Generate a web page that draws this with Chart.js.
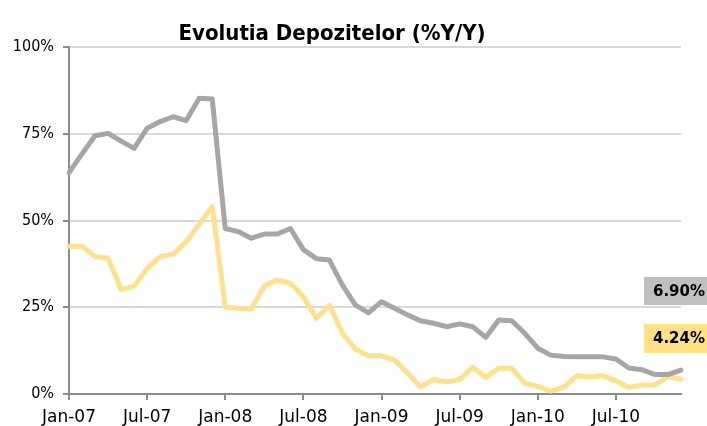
<!DOCTYPE html>
<html>
<head>
<meta charset="utf-8">
<script src="https://cdn.jsdelivr.net/npm/chart.js@4.4.1/dist/chart.umd.min.js"></script>
<style>
  html, body { margin: 0; padding: 0; background: #ffffff; }
  #wrap { width: 707px; height: 426px; }
</style>
</head>
<body>
<div id="wrap"><canvas id="c" width="707" height="426"></canvas></div>
<script>
// ---- data ----
const chartTitle = "Evolutia Depozitelor (%Y/Y)";
const months = [
  "Jan-07","Feb-07","Mar-07","Apr-07","May-07","Jun-07","Jul-07","Aug-07","Sep-07","Oct-07","Nov-07","Dec-07",
  "Jan-08","Feb-08","Mar-08","Apr-08","May-08","Jun-08","Jul-08","Aug-08","Sep-08","Oct-08","Nov-08","Dec-08",
  "Jan-09","Feb-09","Mar-09","Apr-09","May-09","Jun-09","Jul-09","Aug-09","Sep-09","Oct-09","Nov-09","Dec-09",
  "Jan-10","Feb-10","Mar-10","Apr-10","May-10","Jun-10","Jul-10","Aug-10","Sep-10","Oct-10","Nov-10","Dec-10"
];
const graySeries = [
  63.8, 69.2, 74.4, 75.1, 72.9, 70.8, 76.6, 78.5, 79.9, 78.8, 85.2, 85.0,
  47.7, 46.8, 44.9, 46.1, 46.1, 47.7, 41.6, 39.0, 38.6, 31.4, 25.6, 23.4,
  26.6, 24.7, 22.8, 21.1, 20.4, 19.4, 20.2, 19.4, 16.3, 21.3, 21.1, 17.5,
  13.2, 11.2, 10.8, 10.7, 10.7, 10.7, 10.1, 7.5, 7.0, 5.6, 5.6, 6.90
];
const yellowSeries = [
  42.6, 42.6, 39.6, 39.1, 30.1, 31.1, 36.2, 39.6, 40.3, 43.9, 49.0, 54.0,
  25.0, 24.7, 24.5, 31.1, 32.9, 31.9, 28.0, 21.8, 25.6, 17.5, 12.9, 11.0,
  11.0, 9.8, 6.0, 2.1, 4.2, 3.5, 4.2, 7.7, 4.8, 7.4, 7.4, 3.1,
  2.2, 0.8, 2.0, 5.3, 4.9, 5.3, 3.8, 1.9, 2.6, 2.6, 5.0, 4.24
];
const yTicks = [0, 25, 50, 75, 100];

// ---- styles ----
const GRAY_LINE = "#A6A6A6";
const YELLOW_LINE = "#FFE08C";
const GRAY_BOX = "#BFBFBF";
const YELLOW_BOX = "#FFE085";
const AXIS = "#8C8C8C";
const GRID = "#D9D9D9";

const overlay = {
  id: "overlay",
  afterDraw(chart) {
    const ctx = chart.ctx;
    ctx.save();
    // title
    ctx.fillStyle = "#000";
    ctx.font = "bold 22px 'DejaVu Sans Condensed', 'DejaVu Sans', sans-serif";
    ctx.textAlign = "center";
    ctx.textBaseline = "alphabetic";
    ctx.fillText(chartTitle, 332, 40);

    // end value boxes
    const boxes = [
      { v: graySeries[graySeries.length - 1], fill: GRAY_BOX, y0: 277, y1: 305 },
      { v: yellowSeries[yellowSeries.length - 1], fill: YELLOW_BOX, y0: 324, y1: 353 }
    ];
    ctx.font = "bold 15px 'DejaVu Sans', sans-serif";
    ctx.textAlign = "right";
    ctx.textBaseline = "middle";
    boxes.forEach(b => {
      ctx.fillStyle = b.fill;
      ctx.fillRect(644, b.y0, 707 - 644, b.y1 - b.y0);
      ctx.fillStyle = "#000";
      ctx.fillText(b.v.toFixed(2) + "%", 705, (b.y0 + b.y1) / 2 + 1);
    });
    ctx.restore();
  }
};

new Chart(document.getElementById("c"), {
  type: "line",
  data: {
    labels: months,
    datasets: [
      {
        label: "Gray",
        data: graySeries,
        borderColor: GRAY_LINE,
        borderWidth: 5,
        pointRadius: 0,
        tension: 0,
        fill: false,
        borderJoinStyle: "round",
        borderCapStyle: "round"
      },
      {
        label: "Yellow",
        data: yellowSeries,
        borderColor: YELLOW_LINE,
        borderWidth: 5,
        pointRadius: 0,
        tension: 0,
        fill: false,
        borderJoinStyle: "round",
        borderCapStyle: "round"
      }
    ]
  },
  options: {
    responsive: false,
    animation: false,
    events: [],
    layout: { padding: { left: 0, right: 26, top: 47, bottom: 0 } },
    plugins: {
      legend: { display: false },
      title: { display: false },
      tooltip: { enabled: false }
    },
    scales: {
      x: {
        type: "category",
        offset: false,
        border: { display: true, color: AXIS, width: 2 },
        grid: {
          display: true,
          drawOnChartArea: false,
          drawTicks: true,
          tickLength: 6,
          lineWidth: 2,
          color: (c) => (c.index % 6 === 0 ? AXIS : "rgba(0,0,0,0)")
        },
        ticks: {
          autoSkip: false,
          maxRotation: 0,
          minRotation: 0,
          padding: 7,
          color: "#000",
          font: { family: "'DejaVu Sans', sans-serif", size: 17 },
          callback: function (val, idx) { return idx % 6 === 0 ? months[idx] : ""; }
        },
        afterFit: (s) => { s.height = 32; }
      },
      y: {
        min: 0,
        max: 100,
        border: { display: true, color: AXIS, width: 2 },
        grid: {
          color: (c) => (c.tick && c.tick.value === 0 ? AXIS : GRID),
          lineWidth: 2,
          tickColor: AXIS,
          tickLength: 6
        },
        afterBuildTicks: (s) => { s.ticks = yTicks.map(v => ({ value: v })); },
        ticks: {
          padding: 9,
          color: "#000",
          font: { family: "'DejaVu Sans Condensed', 'DejaVu Sans', sans-serif", size: 16 },
          callback: (v) => v + "%"
        },
        afterFit: (s) => { s.width = 69; }
      }
    }
  },
  plugins: [overlay]
});
</script>
</body>
</html>
